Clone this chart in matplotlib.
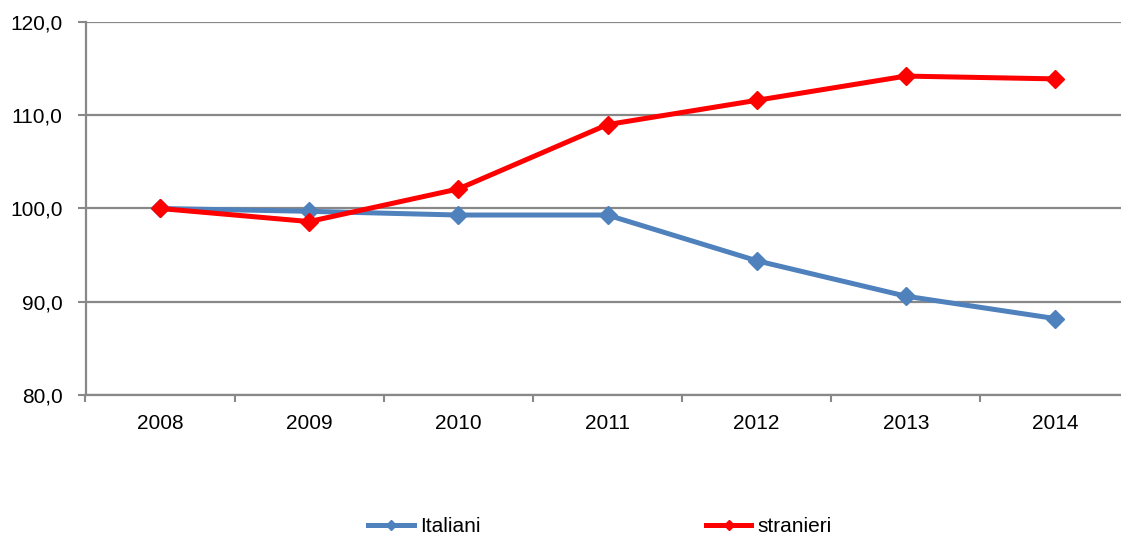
import matplotlib.pyplot as plt
from matplotlib.ticker import FuncFormatter

plt.rcParams['font.family'] = ['Liberation Sans', 'DejaVu Sans']

years = ['2008', '2009', '2010', '2011', '2012', '2013', '2014']
italiani = [100.0, 99.7, 99.3, 99.3, 94.4, 90.6, 88.2]
stranieri = [100.0, 98.6, 102.1, 109.0, 111.6, 114.2, 113.9]

W, H = 1121, 536
fig = plt.figure(figsize=(W / 100, H / 100), dpi=100)
ax = fig.add_axes([85.5 / W, 1 - 395 / H, 1044 / W, 373 / H])

x = list(range(len(years)))
ax.plot(x, italiani, color='#4F81BD', lw=3.6, marker='D', ms=9, label='Italiani', zorder=3)
ax.plot(x, stranieri, color='#FF0000', lw=3.6, marker='D', ms=9, label='stranieri', zorder=4)

ax.set_xlim(-0.5, 6.5)
ax.set_ylim(80, 120)
ax.set_yticks([80, 90, 100, 110, 120])
ax.yaxis.set_major_formatter(FuncFormatter(lambda v, p: f'{v:.1f}'.replace('.', ',')))
ax.set_xticks(x)
ax.set_xticklabels(years)
ax.set_xticks([i + 0.5 for i in range(-1, 7)], minor=True)
ax.tick_params(axis='x', which='major', length=0, pad=14, labelsize=15)
ax.tick_params(axis='x', which='minor', length=5, width=1.5, color='#888888')
ax.tick_params(axis='y', length=6, width=1.5, color='#888888', labelsize=15, pad=10.5)

ax.grid(axis='y', color='#888888', lw=1.6)
ax.set_axisbelow(True)
for s in ['top', 'right']:
    ax.spines[s].set_visible(False)
for s in ['left', 'bottom']:
    ax.spines[s].set_color('#888888')
    ax.spines[s].set_linewidth(1.6)

fig.legend(loc='center', bbox_to_anchor=(600 / W, 1 - 527 / H), ncol=2, frameon=False,
           fontsize=15, handlelength=2.2, columnspacing=10.8, markerscale=0.6,
           handletextpad=0.3)

fig.savefig('out.png', dpi=100)
